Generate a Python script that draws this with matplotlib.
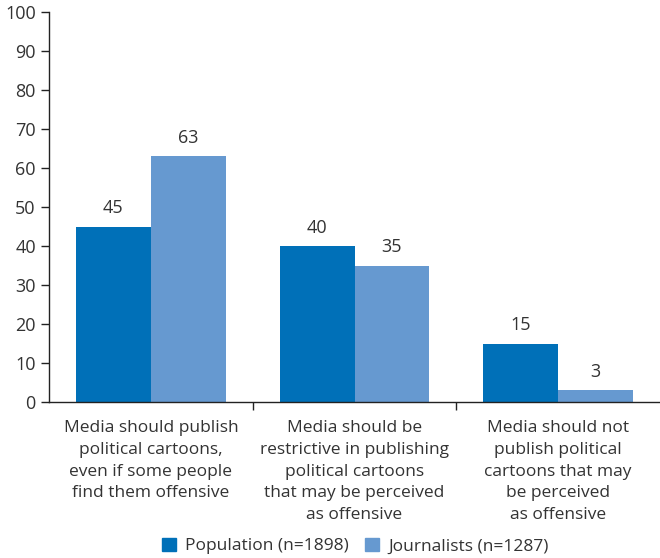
import numpy as np
import matplotlib.pyplot as plt
from matplotlib.patches import Patch

categories = [
    "Media should publish\npolitical cartoons,\neven if some people\nfind them offensive",
    "Media should be\nrestrictive in publishing\npolitical cartoons\nthat may be perceived\nas offensive",
    "Media should not\npublish political\ncartoons that may\nbe perceived\nas offensive",
]
population = [45, 40, 15]
journalists = [63, 35, 3]
series_names = ["Population (n=1898)", "Journalists (n=1287)"]

dark = "#0070b8"
light = "#6699d0"
txt = "#333333"

plt.rcParams['font.family'] = ['Open Sans', 'DejaVu Sans']

fig = plt.figure(figsize=(6.6, 5.58), dpi=100)
ax = fig.add_axes([49/660, 1 - 402/558, 1 - 49/660, 390/558])

x = np.arange(len(categories))
w = 0.368
b1 = ax.bar(x - w/2, population, w, color=dark)
b2 = ax.bar(x + w/2, journalists, w, color=light)
for bars in (b1, b2):
    for r in bars:
        ax.text(r.get_x() + r.get_width()/2, r.get_height() + 2.4, f"{int(r.get_height())}",
                ha='center', va='bottom', fontsize=13, color=txt)

ax.set_xlim(-0.5, 2.5)
ax.set_ylim(0, 100)
ax.set_yticks(range(0, 101, 10))
ax.set_xticks(x)
ax.set_xticklabels(categories, fontsize=12.5, color=txt, linespacing=1.48)
ax.set_xticks([0.5, 1.5], minor=True)
ax.tick_params(axis='x', which='major', length=0, pad=13)
ax.tick_params(axis='x', which='minor', length=6, direction='out', width=1, color='#222222')
ax.tick_params(axis='y', length=6, direction='out', width=1, labelsize=13, labelcolor=txt, color='#222222')
for s in ('top', 'right'):
    ax.spines[s].set_visible(False)
for s in ('left', 'bottom'):
    ax.spines[s].set_color('#222222')
    ax.spines[s].set_linewidth(1)

handles = [Patch(color=dark), Patch(color=light)]
fig.legend(handles, series_names, loc='center', bbox_to_anchor=(355/660, 1 - 546/558), ncol=2,
           frameon=False, fontsize=12.5, handlelength=0.85, handleheight=0.85,
           handletextpad=0.5, columnspacing=0.9, labelcolor=txt)

fig.savefig("out.png", dpi=100)
